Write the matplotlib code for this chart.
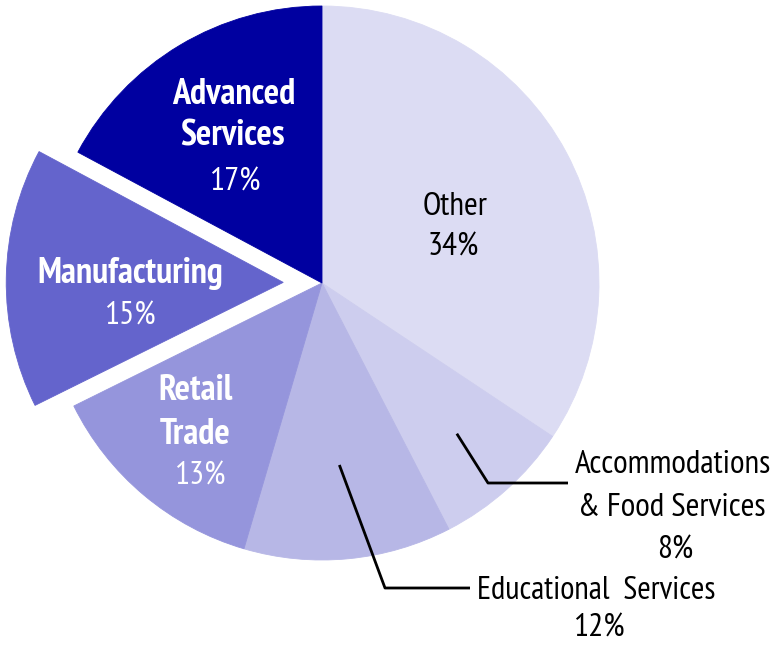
"""
Pie chart of employment share by industry
"""
import numpy as np
import matplotlib.pyplot as plt

plt.rcParams['font.family'] = ['PT Sans Narrow', 'DejaVu Sans']

# data, clockwise from 12 o'clock
sectors = ['Other', 'Accommodations & Food Services', 'Educational Services',
           'Retail Trade', 'Manufacturing', 'Advanced Services']
shares = [34, 8, 12, 13, 15, 17]
colors = ['#dcdcf3', '#cdcdee', '#b7b7e6', '#9595dc', '#6464cc', '#0000a0']
explode = [0, 0, 0, 0, 0.14, 0]

W, H = 771, 647
CX, CY, R = 322, H - 283, 277

fig = plt.figure(figsize=(W / 100, H / 100), dpi=100)
ax = fig.add_axes([0, 0, 1, 1])

# pie's explode offset is in data units, so scale it by the radius
wedges, _ = ax.pie(shares, colors=colors, explode=[e * R for e in explode],
                   startangle=90, counterclock=False, center=(CX, CY),
                   radius=R, wedgeprops=dict(linewidth=0.6))
for w, c in zip(wedges, colors):
    w.set_edgecolor(c)

ax.set_xlim(0, W)
ax.set_ylim(0, H)
ax.set_aspect('equal')
ax.axis('off')


def img(x, y):
    # picture pixels (from top-left) -> data coords, small nudge down
    return x, H - y - 3


# labels inside the slices
bold_kw = dict(fontsize=26, fontweight='bold', ha='center', va='center')
reg_kw = dict(fontsize=24, ha='center', va='center')

ax.text(*img(234, 92), 'Advanced', color='white', **bold_kw)
ax.text(*img(233, 133), 'Services', color='white', **bold_kw)
ax.text(*img(235, 180), f'{shares[5]}%', color='white', **reg_kw)

ax.text(*img(130, 270), 'Manufacturing', color='white', **bold_kw)
ax.text(*img(130, 314), f'{shares[4]}%', color='white', **reg_kw)

ax.text(*img(196, 388), 'Retail', color='white', **bold_kw)
ax.text(*img(195, 432), 'Trade', color='white', **bold_kw)
ax.text(*img(200, 474), f'{shares[3]}%', color='white', **reg_kw)

ax.text(*img(455, 204), 'Other', color='black', **reg_kw)
ax.text(*img(453, 245), f'{shares[0]}%', color='black', **reg_kw)

# outside labels with leader lines
ax.text(*img(673, 462), 'Accommodations', color='black', **reg_kw)
ax.text(*img(672, 505), '& Food Services', color='black', **reg_kw)
ax.text(*img(675, 548), f'{shares[1]}%', color='black', **reg_kw)

ax.text(*img(596, 588), 'Educational  Services', color='black',
        **dict(reg_kw, fontsize=23.5))
ax.text(*img(599, 626), f'{shares[2]}%', color='black', **reg_kw)


def leader(wedge, frac, elbow, end):
    mid = np.deg2rad((wedge.theta1 + wedge.theta2) / 2)
    x0 = CX + frac * R * np.cos(mid)
    y0 = CY + frac * R * np.sin(mid)
    ex, ey = elbow[0], H - elbow[1]
    tx, ty = end[0], H - end[1]
    ax.plot([x0, ex, tx], [y0, ey, ty], color='black', linewidth=2,
            solid_capstyle='butt')


leader(wedges[1], 0.73, (488, 483), (568, 483))
leader(wedges[2], 0.66, (385, 588), (470, 588))

fig.savefig('out.png', dpi=100)
